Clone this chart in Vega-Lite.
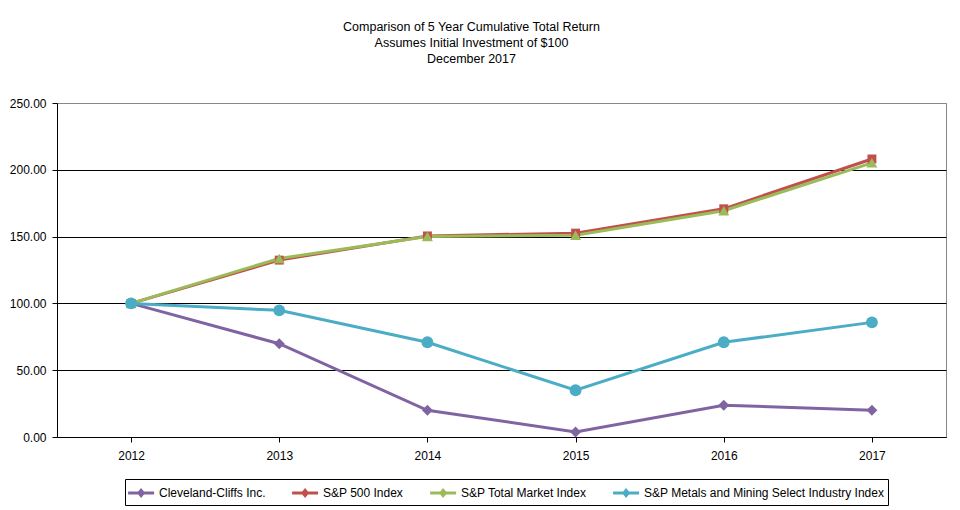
{
  "$schema": "https://vega.github.io/schema/vega-lite/v6.json",
  "width": 889,
  "height": 334,
  "autosize": "none",
  "padding": {"left": 57, "top": 103, "right": 14, "bottom": 73},
  "background": "white",
  "title": {
    "text": ["Comparison  of 5 Year Cumulative  Total Return", "Assumes Initial Investment  of $100", "December  2017"],
    "anchor": "middle",
    "frame": "group",
    "dx": -30,
    "offset": 32,
    "font": "Liberation Sans Narrow, Arial Narrow, Liberation Sans, sans-serif",
    "fontSize": 12.5,
    "fontWeight": "normal",
    "lineHeight": 16,
    "color": "black"
  },
  "data": {
    "values": [
      {"year": "2012", "series": "Cleveland-Cliffs Inc.", "value": 100},
      {"year": "2013", "series": "Cleveland-Cliffs Inc.", "value": 69.8},
      {"year": "2014", "series": "Cleveland-Cliffs Inc.", "value": 20.0},
      {"year": "2015", "series": "Cleveland-Cliffs Inc.", "value": 3.8},
      {"year": "2016", "series": "Cleveland-Cliffs Inc.", "value": 23.8},
      {"year": "2017", "series": "Cleveland-Cliffs Inc.", "value": 20.0},
      {"year": "2012", "series": "S&P 500 Index", "value": 100},
      {"year": "2013", "series": "S&P 500 Index", "value": 132.4},
      {"year": "2014", "series": "S&P 500 Index", "value": 150.5},
      {"year": "2015", "series": "S&P 500 Index", "value": 152.6},
      {"year": "2016", "series": "S&P 500 Index", "value": 170.8},
      {"year": "2017", "series": "S&P 500 Index", "value": 208.1},
      {"year": "2012", "series": "S&P Total Market Index", "value": 100},
      {"year": "2013", "series": "S&P Total Market Index", "value": 133.6},
      {"year": "2014", "series": "S&P Total Market Index", "value": 150.0},
      {"year": "2015", "series": "S&P Total Market Index", "value": 151.0},
      {"year": "2016", "series": "S&P Total Market Index", "value": 169.4},
      {"year": "2017", "series": "S&P Total Market Index", "value": 205.2},
      {"year": "2012", "series": "S&P Metals and Mining Select Industry Index", "value": 100},
      {"year": "2013", "series": "S&P Metals and Mining Select Industry Index", "value": 94.8},
      {"year": "2014", "series": "S&P Metals and Mining Select Industry Index", "value": 70.9},
      {"year": "2015", "series": "S&P Metals and Mining Select Industry Index", "value": 35.0},
      {"year": "2016", "series": "S&P Metals and Mining Select Industry Index", "value": 70.9},
      {"year": "2017", "series": "S&P Metals and Mining Select Industry Index", "value": 85.8}
    ]
  },
  "encoding": {
    "x": {
      "field": "year", "type": "ordinal",
      "scale": {"type": "point", "padding": 0.5},
      "axis": {
        "title": null, "labelAngle": 0, "domainColor": "black", "tickColor": "black",
        "tickSize": 5, "labelPadding": 8, "labelColor": "black", "labelFontSize": 12,
        "labelFont": "Liberation Sans, Arial, sans-serif", "grid": false
      }
    },
    "y": {
      "field": "value", "type": "quantitative",
      "scale": {"domain": [0, 250], "nice": false, "zero": true},
      "axis": {
        "title": null, "values": [0, 50, 100, 150, 200, 250], "format": ".2f",
        "domainColor": "black", "tickColor": "black", "tickSize": 5, "labelPadding": 6,
        "labelColor": "black", "labelFontSize": 12, "labelFont": "Liberation Sans, Arial, sans-serif",
        "grid": true,
        "gridColor": {"condition": {"test": "datum.value == 250", "value": "#888888"}, "value": "black"},
        "gridOpacity": 1, "gridWidth": 1
      }
    },
    "color": {
      "field": "series", "type": "nominal",
      "sort": ["Cleveland-Cliffs Inc.", "S&P 500 Index", "S&P Total Market Index", "S&P Metals and Mining Select Industry Index"],
      "scale": {
        "domain": ["Cleveland-Cliffs Inc.", "S&P 500 Index", "S&P Total Market Index", "S&P Metals and Mining Select Industry Index"],
        "range": ["#8064A2", "#C0504D", "#9BBB59", "#4BACC6"]
      },
      "legend": {
        "title": null, "orient": "none", "direction": "horizontal",
        "legendX": 68, "legendY": 376,
        "strokeColor": "black", "padding": 3,
        "symbolType": "M-1.2,0H1.8M0.05,0L0.3,-0.3L0.55,0L0.3,0.3Z",
        "symbolSize": 300, "symbolStrokeWidth": 3,
        "labelFont": "Liberation Sans Narrow, Arial Narrow, Liberation Sans, sans-serif",
        "labelFontSize": 12, "labelColor": "black", "columnPadding": 20, "labelOffset": 10,
        "labelLimit": 0
      }
    }
  },
  "layer": [
    {"mark": {"type": "line", "strokeWidth": 3}},
    {
      "transform": [{"filter": "datum.series == 'Cleveland-Cliffs Inc.'"}],
      "mark": {"type": "point", "filled": true, "opacity": 1, "shape": "diamond", "size": 120}
    },
    {
      "transform": [{"filter": "datum.series == 'S&P 500 Index'"}],
      "mark": {"type": "point", "filled": true, "opacity": 1, "shape": "square", "size": 80}
    },
    {
      "transform": [{"filter": "datum.series == 'S&P Total Market Index'"}],
      "mark": {"type": "point", "filled": true, "opacity": 1, "shape": "triangle-up", "size": 120}
    },
    {
      "transform": [{"filter": "datum.series == 'S&P Metals and Mining Select Industry Index'"}],
      "mark": {"type": "point", "filled": true, "opacity": 1, "shape": "circle", "size": 140}
    }
  ],
  "config": {
    "view": {"stroke": "#888888", "strokeWidth": 1},
    "axis": {"domainWidth": 1, "tickWidth": 1}
  }
}
